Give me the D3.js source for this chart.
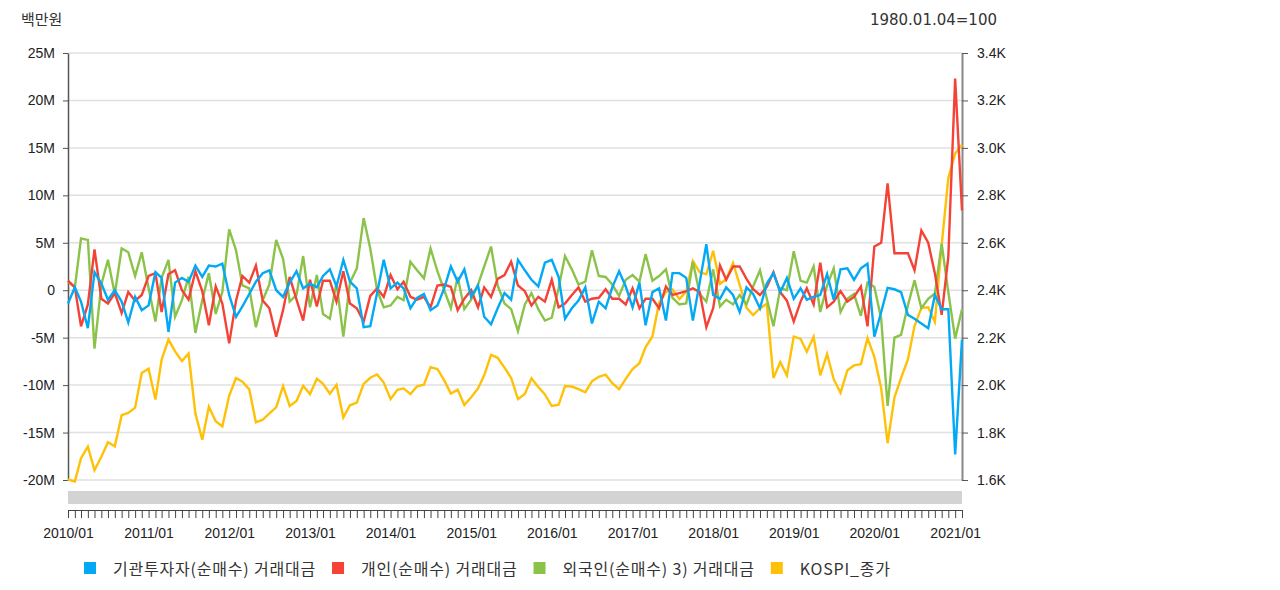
<!DOCTYPE html>
<html>
<head>
<meta charset="utf-8">
<script src="https://cdn.jsdelivr.net/npm/d3@7"></script>
<style>
  body { margin: 0; background: #fff; }
  svg { font-family: "Liberation Sans", Arial, "Noto Sans CJK KR", sans-serif; }
</style>
</head>
<body>
<svg id="chart" width="1280" height="590"></svg>
<script>
// monthly, 2010/01 .. 2021/02
const startMonth = "2010/01"
const endMonth = "2021/02"

// 백만원 단위, in millions (M)
const institution = [
  -1.4, 0.3, -1.2, -4.0, 1.9, 0.7, -1.0, 0.0, -1.2, -3.4, -0.7, -2.1,
  -1.6, 1.9, 1.3, -4.4, 0.8, 1.3, 0.9, 2.6, 1.4, 2.6, 2.5, 2.8,
  -0.5, -2.8, -1.7, -0.4, 0.9, 1.8, 2.1, 0.0, -0.7, 0.8, 2.0, 0.2,
  0.7, 0.3, 1.5, 2.2, 0.4, 3.2, 0.9, 0.2, -3.9, -3.8, -0.3, 3.2,
  0.2, 0.8, 0.2, -1.9, -0.8, -0.4, -2.1, -1.6, 0.2, 2.5, 0.9, 2.2,
  -0.7, 0.5, -2.8, -3.6, -1.9, -0.3, -1.0, 3.2, 2.1, 1.1, 0.4, 2.9,
  3.2, 1.4, -3.0, -1.9, -1.1, 0.3, -3.5, -1.2, -1.9, 0.3, 2.0, 0.4,
  -1.8, 0.8, -3.7, -0.2, 0.2, -3.2, 1.8, 1.8, 1.3, -3.2, 0.8, 4.85,
  -0.5, -0.9, 0.3, -0.5, -2.3, 0.3, -0.4, -1.9, 0.7, 1.8, -0.2, 1.3,
  -0.9, 0.2, -1.0, -0.7, -0.5, 1.7, -1.0, 2.2, 2.3, 1.1, 2.3, 2.8,
  -4.9, -2.3, 0.25, 0.1, -0.2, -2.6, -3.0, -3.5, -4.0, -0.5, -2.0, -2.0,
  -17.3, -5.2
]
const individual = [
  1.0, 0.3, -3.8, -1.5, 4.3, -0.9, -1.4, -0.3, -2.4, -0.2, -1.1, -0.5,
  1.5, 1.8, -2.3, 1.7, 2.1, 0.0, -1.0, 2.0, -0.1, -3.7, 0.4, -1.4,
  -5.6, -1.1, 1.5, 0.8, 2.6, -1.1, -1.9, -4.9, -2.1, 1.4, -1.0, -3.2,
  1.1, -1.7, 1.0, 1.0, -1.2, 2.0, -1.4, -1.9, -3.3, -0.6, 0.2, -0.7,
  1.6, 0.1, 0.9, -0.7, -1.0, -0.7, -1.8, 0.5, 0.6, 0.35, -2.1, -0.9,
  0.0, -1.8, 0.3, -0.7, 1.2, 1.6, 3.0, 0.5, -0.1, -1.6, -0.7, -1.2,
  1.1, -1.8, -1.4, -0.5, 0.3, -1.2, -0.9, -0.8, 0.1, -0.9, -0.9, -1.5,
  0.2, -1.9, -0.9, -0.9, -1.9, 0.4, -0.5, -0.3, -0.1, 0.2, -0.2, -3.9,
  -1.9, 2.6, 1.1, 2.5, 2.5, 1.2, 0.1, -0.5, 0.35, 1.9, -0.2, -1.1,
  -3.3, -1.2, 0.2, -1.5, 2.9, -1.8, -1.2, -0.1, -1.2, -0.7, 0.4, -3.8,
  4.6, 5.0, 11.25, 3.9, 3.9, 3.9, 2.1, 6.3, 5.0, 1.8, -2.6, 3.5,
  22.3, 8.4
]
const foreign = [
  0.9, 0.3, 5.45, 5.3, -6.15, 0.6, 3.2, -0.4, 4.4, 4.0, 1.5, 4.0,
  0.2, -3.3, 1.3, 3.2, -2.8, -1.05, 1.4, -4.5, -1.05, 1.8, -2.5, -0.2,
  6.4, 4.2, 0.5, 0.2, -3.9, -1.05, 0.6, 5.3, 3.3, -1.2, -0.5, 3.6,
  -1.8, 1.6, -2.5, -3.0, 0.8, -4.9, 0.8, 2.3, 7.6, 4.4, 0.0, -1.8,
  -1.6, -0.7, -1.05, 3.0, 2.1, 1.25, 4.4, 2.0, 0.0, -1.9, 1.4, -2.0,
  -1.0, 0.6, 2.5, 4.6, 0.5, -1.4, -2.0, -4.3, -1.5, -0.3, -2.0, -3.2,
  -2.9, 0.2, 3.6, 2.2, 0.6, 0.9, 4.2, 1.5, 1.4, 0.6, -0.6, 1.1,
  1.6, 0.9, 3.8, 1.0, 1.5, 2.2, -0.8, -1.5, -1.4, 3.0, -0.4, -1.2,
  2.2, -1.7, -1.0, -1.5, -0.5, -1.5, 0.4, 2.1, -0.9, -3.8, 0.2, 0.0,
  4.1, 1.0, 0.8, 2.5, -2.3, 0.5, 2.3, -2.3, -0.9, -0.4, -2.7, 0.8,
  0.35, -3.0, -12.2, -5.0, -4.7, -1.6, 1.05, -1.9, -0.9, -0.35, 4.9, -0.2,
  -5.1, -2.0
]
// 1980.01.04=100
const kospi = [
  1602, 1594, 1692, 1741, 1641, 1698, 1759, 1742, 1873, 1883, 1905, 2051,
  2069, 1939, 2107, 2192, 2142, 2101, 2133, 1880, 1770, 1909, 1848, 1826,
  1955, 2030, 2014, 1982, 1843, 1854, 1881, 1906, 1996, 1912, 1933, 1997,
  1962, 2027, 2005, 1964, 2001, 1863, 1915, 1926, 2005, 2031, 2045, 2011,
  1941, 1980, 1986, 1962, 1995, 2002, 2076, 2068, 2020, 1964, 1981, 1916,
  1949, 1986, 2041, 2127, 2115, 2074, 2030, 1941, 1963, 2029, 1992, 1961,
  1912, 1917, 1996, 1994, 1983, 1970, 2016, 2035, 2044, 2008, 1983, 2026,
  2068, 2092, 2160, 2205, 2347, 2392, 2403, 2363, 2394, 2523, 2476, 2467,
  2566, 2427, 2446, 2515, 2423, 2326, 2295, 2323, 2343, 2030, 2097, 2041,
  2205, 2195, 2141, 2204, 2041, 2131, 2025, 1968, 2063, 2083, 2088, 2198,
  2119, 1987, 1755, 1948, 2030, 2108, 2249, 2326, 2328, 2267, 2591, 2873,
  2976, 3013
]

const leftTicks = [-20, -15, -10, -5, 0, 5, 10, 15, 20, 25]
const rightTicks = [1600, 1800, 2000, 2200, 2400, 2600, 2800, 3000, 3200, 3400]
const seriesNames = ["기관투자자(순매수) 거래대금", "개인(순매수) 거래대금", "외국인(순매수) 3) 거래대금", "KOSPI_종가"]
const seriesColors = ["#03a9f4", "#f44336", "#8bc34a", "#ffc107"]

const parse = d3.timeParse("%Y/%m")
const months = d3.timeMonth.range(parse(startMonth), d3.timeMonth.offset(parse(endMonth), 1))

const svg = d3.select("#chart")
const plotLeft = 68, plotRight = 962, plotTop = 53, plotBottom = 480

const x = d3.scaleTime().domain(d3.extent(months)).range([plotLeft, plotRight])
const yL = d3.scaleLinear().domain([-20, 25]).range([plotBottom, plotTop])
const yR = d3.scaleLinear().domain([1600, 3400]).range([plotBottom, plotTop])

// unit captions
svg.append("text").attr("x", 21).attr("y", 25)
  .attr("font-family", "'Noto Sans CJK KR', sans-serif")
  .attr("font-size", 15).attr("fill", "#333").text("백만원")
svg.append("text").attr("x", 997).attr("y", 25).attr("text-anchor", "end")
  .attr("font-family", "'DejaVu Sans', sans-serif")
  .attr("font-size", 15).attr("fill", "#333").text("1980.01.04=100")

// gridlines
svg.append("g").selectAll("line")
  .data(leftTicks)
  .join("line")
  .attr("x1", plotLeft).attr("x2", plotRight)
  .attr("y1", d => yL(d)).attr("y2", d => yL(d))
  .attr("stroke", "#e0e0e0").attr("stroke-width", 1.5)

// left axis
const gL = svg.append("g")
  .attr("transform", `translate(${plotLeft},0)`)
  .call(d3.axisLeft(yL).tickValues(leftTicks).tickSize(5).tickSizeOuter(0).tickPadding(8)
    .tickFormat(d => d === 0 ? "0" : d + "M"))
gL.selectAll("text").attr("font-size", 14).attr("fill", "#222")
gL.select(".domain").attr("stroke", "#555").attr("stroke-width", 1.5)
gL.selectAll(".tick line").attr("stroke", "#555")

// right axis
const gR = svg.append("g")
  .attr("transform", `translate(${plotRight},0)`)
  .call(d3.axisRight(yR).tickValues(rightTicks).tickSize(6).tickSizeOuter(0).tickPadding(9)
    .tickFormat(d => (d / 1000).toFixed(1) + "K"))
gR.selectAll("text").attr("font-size", 14).attr("fill", "#222")
gR.select(".domain").attr("stroke", "#888").attr("stroke-width", 2)
gR.selectAll(".tick line").attr("stroke", "#555")

// lines
const series = [institution, individual, foreign, kospi]
const drawOrder = [3, 2, 1, 0]
drawOrder.forEach(k => {
  const yScale = k === 3 ? yR : yL
  svg.append("path")
    .datum(series[k])
    .attr("fill", "none")
    .attr("stroke", seriesColors[k])
    .attr("stroke-width", 2.4)
    .attr("d", d3.line().x((d, i) => x(months[i])).y(d => yScale(d)))
})

// navigator bar
svg.append("rect")
  .attr("x", plotLeft).attr("y", 491)
  .attr("width", plotRight - plotLeft).attr("height", 13)
  .attr("fill", "#d3d3d3")

// monthly tick comb
const gComb = svg.append("g")
  .attr("transform", "translate(0,510)")
  .call(d3.axisBottom(x).tickValues(months).tickSize(8).tickSizeOuter(0).tickFormat(""))
gComb.selectAll("line, path").attr("stroke", "#444")

// year labels
const gYears = svg.append("g")
  .attr("transform", "translate(0,510)")
  .call(d3.axisBottom(x).ticks(d3.timeYear.every(1)).tickSize(0).tickPadding(18)
    .tickFormat(d3.timeFormat("%Y/%m")))
gYears.select(".domain").remove()
gYears.selectAll("text").attr("font-size", 14).attr("fill", "#222")

// legend
const legend = svg.append("g").attr("font-family", "'Noto Sans CJK KR', sans-serif")
let lx = 84
seriesNames.forEach((name, k) => {
  legend.append("rect")
    .attr("x", lx).attr("y", 562).attr("width", 12).attr("height", 12)
    .attr("fill", seriesColors[k])
  const t = legend.append("text")
    .attr("x", lx + 29).attr("y", 575)
    .attr("font-size", 16).attr("letter-spacing", 0.8).attr("fill", "#333")
    .text(name)
  lx += 29 + t.node().getComputedTextLength() + 16
})
</script>
</body>
</html>
